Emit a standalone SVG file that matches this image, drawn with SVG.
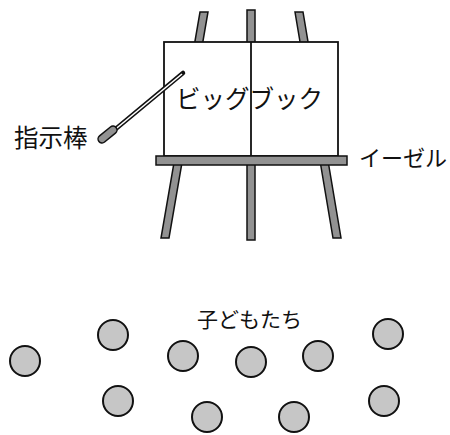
<svg xmlns="http://www.w3.org/2000/svg" width="450" height="435" viewBox="0 0 450 435">
  <style>
    .wood { fill: #929292; stroke: #111; stroke-width: 1.5; }
    .board { fill: #fff; stroke: #111; stroke-width: 1.8; }
    .label { font-family: "Noto Sans CJK JP", "Noto Sans", sans-serif; fill: #111; }
    .child { fill: #c6c6c6; stroke: #111; stroke-width: 2; }
  </style>
  <rect width="450" height="435" fill="#fff"/>

  <!-- easel: legs behind, then the board and the ledge -->
  <g id="easel">
    <polygon class="wood" points="200,12 208,12 169,238 161,238"/>
    <rect class="wood" x="247" y="10" width="8" height="230"/>
    <polygon class="wood" points="295,12 303,12 341,238 333,238"/>
    <rect class="board" x="164" y="42" width="174" height="114"/>
    <line x1="251" y1="42" x2="251" y2="156" stroke="#111" stroke-width="1.8"/>
    <rect class="wood" x="156" y="156" width="191" height="9"/>
  </g>

  <g id="bigbook-label">
    <text class="label" x="176" y="108" font-size="24.5">ビッグブック</text>
  </g>

  <!-- pointer stick with a grip -->
  <g id="pointer">
    <line x1="112" y1="132" x2="183" y2="73" stroke="#111" stroke-width="4.5" stroke-linecap="round"/>
    <line x1="112" y1="132" x2="182" y2="74" stroke="#fff" stroke-width="1.6"/>
    <rect class="wood" x="-11" y="-4" width="22" height="8" rx="4" transform="translate(107.5,134.5) rotate(-39)"/>
  </g>

  <g id="pointer-label">
    <text class="label" x="14" y="147" font-size="24.5">指示棒</text>
  </g>

  <g id="easel-label">
    <text class="label" x="359" y="166" font-size="22">イーゼル</text>
  </g>

  <g id="children-label">
    <text class="label" x="197" y="327" font-size="21">子どもたち</text>
  </g>

  <!-- children seated in front of the easel -->
  <g id="children">
    <circle class="child" cx="25" cy="361" r="15"/>
    <circle class="child" cx="113" cy="335" r="15"/>
    <circle class="child" cx="183" cy="356" r="15"/>
    <circle class="child" cx="251" cy="362" r="15"/>
    <circle class="child" cx="318" cy="356" r="15"/>
    <circle class="child" cx="388" cy="334" r="15"/>
    <circle class="child" cx="118" cy="401" r="15"/>
    <circle class="child" cx="207" cy="417" r="15"/>
    <circle class="child" cx="294" cy="417" r="15"/>
    <circle class="child" cx="384" cy="401" r="15"/>
  </g>
</svg>
